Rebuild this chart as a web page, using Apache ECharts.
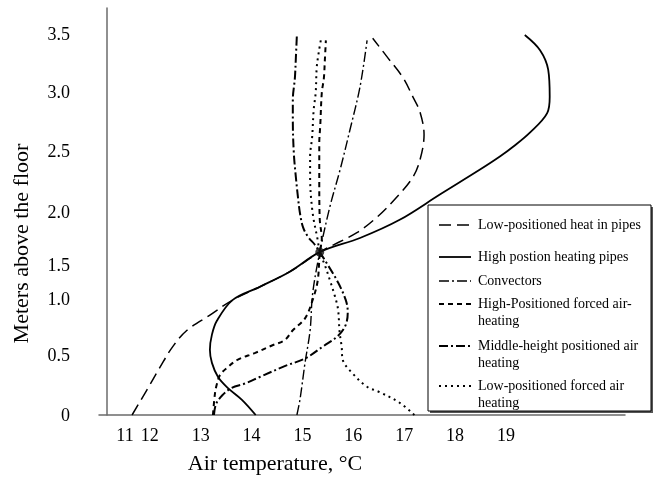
<!DOCTYPE html>
<html>
<head>
<meta charset="utf-8">
<script src="https://cdn.jsdelivr.net/npm/echarts@6/dist/echarts.min.js"></script>
<style>
  html, body { margin: 0; padding: 0; background: #fff; }
  #chart { width: 657px; height: 486px; }
</style>
</head>
<body>
<div id="chart"></div>
<script>
// Vertical air temperature profiles: [temperature °C, height above floor m]
const lowPipes = [[11.65,0],[11.94,0.23],[12.2,0.44],[12.45,0.63],[12.73,0.78],[13.18,0.92],[13.63,1.06],[14.16,1.18],[14.75,1.32],[15.34,1.5],[16.07,1.68],[16.46,1.82],[16.86,2.01],[17.17,2.19],[17.31,2.35],[17.39,2.58],[17.31,2.79],[17.17,2.93],[16.97,3.11],[16.66,3.3],[16.38,3.47]];
const highPipes = [[14.08,0],[13.81,0.14],[13.53,0.25],[13.34,0.35],[13.22,0.48],[13.18,0.6],[13.22,0.74],[13.32,0.87],[13.63,1.06],[14.16,1.18],[14.75,1.32],[15.34,1.5],[16.13,1.63],[16.92,1.8],[17.7,2.03],[18.49,2.26],[18.88,2.38],[19.14,2.47],[19.47,2.6],[19.81,2.78],[19.86,2.93],[19.83,3.18],[19.67,3.36],[19.37,3.5]];
const convectors = [[14.89,0],[14.95,0.14],[15.05,0.48],[15.15,0.78],[15.2,1.12],[15.34,1.5],[15.54,1.92],[15.74,2.26],[15.93,2.62],[16.13,3.02],[16.27,3.45]];
const highForced = [[13.24,0],[13.28,0.2],[13.32,0.29],[13.38,0.37],[13.53,0.44],[13.73,0.51],[14.06,0.57],[14.4,0.64],[14.65,0.69],[14.81,0.78],[15.05,0.89],[15.2,1.06],[15.3,1.24],[15.34,1.5],[15.38,1.62],[15.34,1.8],[15.33,2.14],[15.33,2.5],[15.35,2.67],[15.38,2.97],[15.42,3.1],[15.44,3.27],[15.46,3.45]];
const middleAir = [[13.26,0],[13.3,0.1],[13.42,0.18],[13.61,0.25],[13.87,0.29],[14.16,0.35],[14.65,0.45],[15.05,0.52],[15.4,0.63],[15.7,0.73],[15.85,0.83],[15.89,0.95],[15.85,1.06],[15.7,1.22],[15.5,1.38],[15.34,1.5],[15.24,1.57],[15.11,1.64],[15.01,1.73],[14.95,1.86],[14.91,2.01],[14.87,2.19],[14.83,2.41],[14.81,2.72],[14.81,2.9],[14.85,3.1],[14.87,3.29],[14.89,3.5]];
const lowForced = [[17.2,0],[16.92,0.11],[16.52,0.21],[16.27,0.26],[15.97,0.39],[15.79,0.51],[15.77,0.63],[15.73,0.76],[15.7,0.97],[15.64,1.09],[15.54,1.24],[15.44,1.38],[15.34,1.5],[15.3,1.61],[15.2,1.86],[15.15,2.19],[15.15,2.38],[15.19,2.56],[15.22,2.81],[15.26,2.97],[15.28,3.2],[15.32,3.34],[15.36,3.45]];
// common point where all profiles meet
const junction = [[15.34, 1.5]];

const seriesNames = [
  'Low-positioned heat in pipes',
  'High postion heating pipes',
  'Convectors',
  'High-Positioned forced air-\nheating',
  'Middle-height positioned air\nheating',
  'Low-positioned forced air\nheating'
];
const xTickLabels = ['11','12','13','14','15','16','17','18','19'];
const yTickLabels = ['0','0.5','1.0','1.5','2.0','2.5','3.0','3.5'];

const profiles = [lowPipes, highPipes, convectors, highForced, middleAir, lowForced];
const lineStyles = [
  { width: 1.5, type: [12, 6] },
  { width: 1.8, type: 'solid' },
  { width: 1.4, type: [10, 3, 2, 3] },
  { width: 2, type: [5, 4] },
  { width: 2, type: [9, 3, 2, 3] },
  { width: 2, type: [2, 4] }
];

const serif = '"Liberation Serif", "Times New Roman", serif';
const axisGrey = '#6b6b6b';

// vertical nudges for individual height labels (px, + is down)
const yLabelShift = [1, -4, -6, 14, 15, 9, 4, 0];
const yRich = {};
yLabelShift.forEach((d, i) => {
  yRich['h' + i] = {
    fontFamily: serif, fontSize: 18, color: '#000',
    padding: d >= 0 ? [2 * d, 0, 0, 0] : [0, 0, -2 * d, 0]
  };
});

const chart = echarts.init(document.getElementById('chart'), null, { renderer: 'canvas' });

const series = profiles.map((data, i) => ({
  type: 'line',
  name: seriesNames[i],
  data: data,
  smooth: 0.35,
  showSymbol: false,
  symbol: 'none',
  animation: false,
  lineStyle: Object.assign({ color: '#000' }, lineStyles[i]),
  z: 3
}));
series.push({
  type: 'scatter',
  data: junction,
  symbol: 'circle',
  symbolSize: 9,
  itemStyle: { color: '#111' },
  animation: false,
  z: 4
});

// legend box drawn as graphic elements
const legendRows = [225, 257, 281, 304, 346, 386];
const legendEls = [
  { type: 'rect', shape: { x: 430, y: 207, width: 223, height: 206 }, style: { fill: '#555' } },
  { type: 'rect', shape: { x: 428, y: 205, width: 223, height: 206 }, style: { fill: '#fff', stroke: '#000', lineWidth: 1 } }
];
seriesNames.forEach((name, i) => {
  const y = legendRows[i];
  const ls = lineStyles[i];
  legendEls.push({
    type: 'line',
    shape: { x1: 439, y1: y, x2: 471, y2: y },
    style: { stroke: '#000', lineWidth: ls.width, lineDash: Array.isArray(ls.type) ? ls.type : null }
  });
  legendEls.push({
    type: 'text',
    x: 478, y: y - 8.5,
    style: {
      text: name, fill: '#000', font: '14px ' + serif,
      lineHeight: 17, verticalAlign: 'top', align: 'left'
    }
  });
});

chart.setOption({
  backgroundColor: '#fff',
  animation: false,
  grid: { left: 99, right: 32, top: 8, bottom: 71, containLabel: false, outerBoundsMode: 'none' },
  xAxis: {
    type: 'value',
    min: 11, max: 21.34, interval: 1,
    name: 'Air temperature, °C',
    nameLocation: 'middle',
    nameGap: 38,
    nameTextStyle: { fontFamily: serif, fontSize: 22, color: '#000', padding: [0, 174, 0, 0] },
    axisLine: { show: true, lineStyle: { color: axisGrey, width: 1.5 } },
    axisTick: { show: false },
    splitLine: { show: false },
    axisLabel: {
      margin: 12,
      showMaxLabel: false,
      fontFamily: serif, fontSize: 18, color: '#000',
      formatter: v => {
        const idx = Math.round(v) - 11;
        if (Math.abs(v - Math.round(v)) > 1e-6 || idx < 0 || idx >= xTickLabels.length) return '';
        return idx === 0 ? '{first|' + xTickLabels[idx] + '}' : xTickLabels[idx];
      },
      rich: { first: { fontFamily: serif, fontSize: 18, color: '#000', padding: [0, 0, 0, 52] } }
    }
  },
  yAxis: {
    type: 'value',
    min: 0, max: 3.748, interval: 0.5,
    offset: -8,
    name: 'Meters above the floor',
    nameLocation: 'middle',
    nameRotate: 90,
    nameGap: 74,
    nameTextStyle: { fontFamily: serif, fontSize: 22, color: '#000', padding: [0, 64, 0, 0] },
    axisLine: { show: true, lineStyle: { color: axisGrey, width: 1.5 } },
    axisTick: { show: false },
    splitLine: { show: false },
    axisLabel: {
      margin: 37,
      showMaxLabel: false,
      fontFamily: serif, fontSize: 18, color: '#000',
      formatter: v => {
        const idx = Math.round(v * 2);
        if (Math.abs(v * 2 - idx) > 1e-6 || idx >= yTickLabels.length) return '';
        return '{h' + idx + '|' + yTickLabels[idx] + '}';
      },
      rich: yRich
    }
  },
  graphic: { elements: legendEls },
  series: series
});
</script>
</body>
</html>
